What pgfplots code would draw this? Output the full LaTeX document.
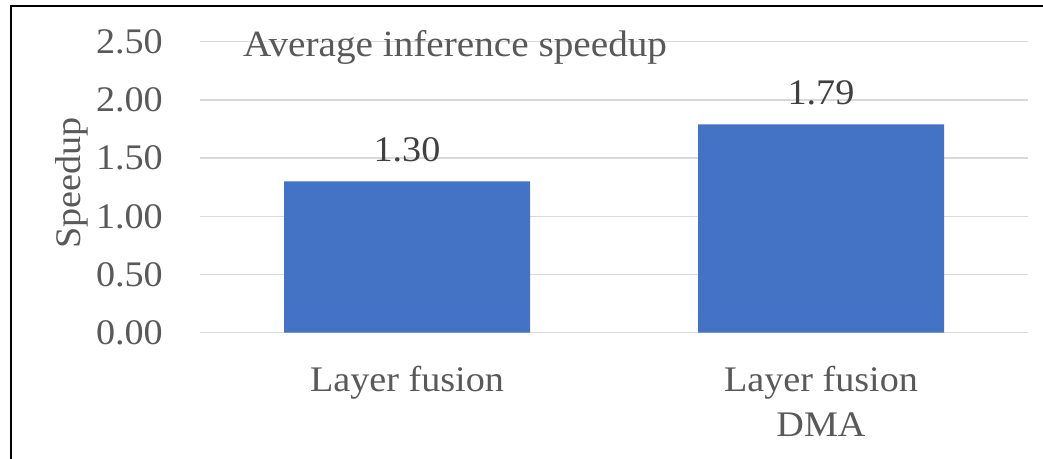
\documentclass[border=0pt]{standalone}
\usepackage{fontspec}
\setmainfont{Liberation Serif}[FakeStretch=1.06]
\usepackage{pgfplots}
\pgfplotsset{compat=1.18}
\definecolor{barblue}{HTML}{4472C4}
\definecolor{gridgray}{HTML}{D9D9D9}
\definecolor{txtgray}{HTML}{595959}
\definecolor{lblgray}{HTML}{404040}
\begin{document}
\begin{tikzpicture}[font=\fontsize{36}{45}\selectfont]
\path[use as bounding box] (0,0) rectangle (1043pt,-458pt);
\draw[line width=2pt, black] (11pt,-460pt) -- (11pt,-5.7pt) -- (1045pt,-5.7pt);
\begin{axis}[
  at={(200pt,-332.7pt)}, anchor=south west,
  scale only axis, width=828pt, height=291pt,
  xmin=-0.5, xmax=1.5, ymin=0, ymax=2.5,
  axis line style={draw=none},
  ytick={0,0.5,1,1.5,2,2.5},
  xtick={0,1},
  xticklabels={Layer fusion,{Layer fusion\\DMA}},
  major tick length=0pt,
  ymajorgrids, grid style={gridgray, line width=1.5pt},
  /pgf/number format/assume math mode=true,
  yticklabel style={/pgf/number format/.cd, fixed, fixed zerofill, precision=2, /tikz/.cd, text=txtgray, inner sep=0pt, anchor=east, xshift=-37pt, font=\fontsize{36}{45}\selectfont},
  xticklabel style={text=txtgray, inner sep=0pt, anchor=north, yshift=-33pt, align=center, font=\fontsize{36}{45}\selectfont},
  ylabel={Speedup},
  ylabel style={at={(axis description cs:-0.175,0.514)}, anchor=north, inner sep=0pt, text=txtgray, rotate=0, font=\fontsize{36}{45}\selectfont},
  title={Average inference speedup},
  title style={at={(axis description cs:0.0519,0.930)}, anchor=base west, inner sep=0pt, text=txtgray, font=\fontsize{37}{45}\selectfont},
  nodes near coords,
  nodes near coords style={/pgf/number format/.cd, fixed, fixed zerofill, precision=2, /tikz/.cd, text=lblgray, inner sep=0pt, anchor=base, yshift=20pt, font=\fontsize{36}{45}\selectfont},
  clip=false,
]
\addplot[ybar, bar width=246pt, fill=barblue, draw=none] coordinates {(0,1.30) (1,1.79)};
\end{axis}
\end{tikzpicture}
\end{document}
